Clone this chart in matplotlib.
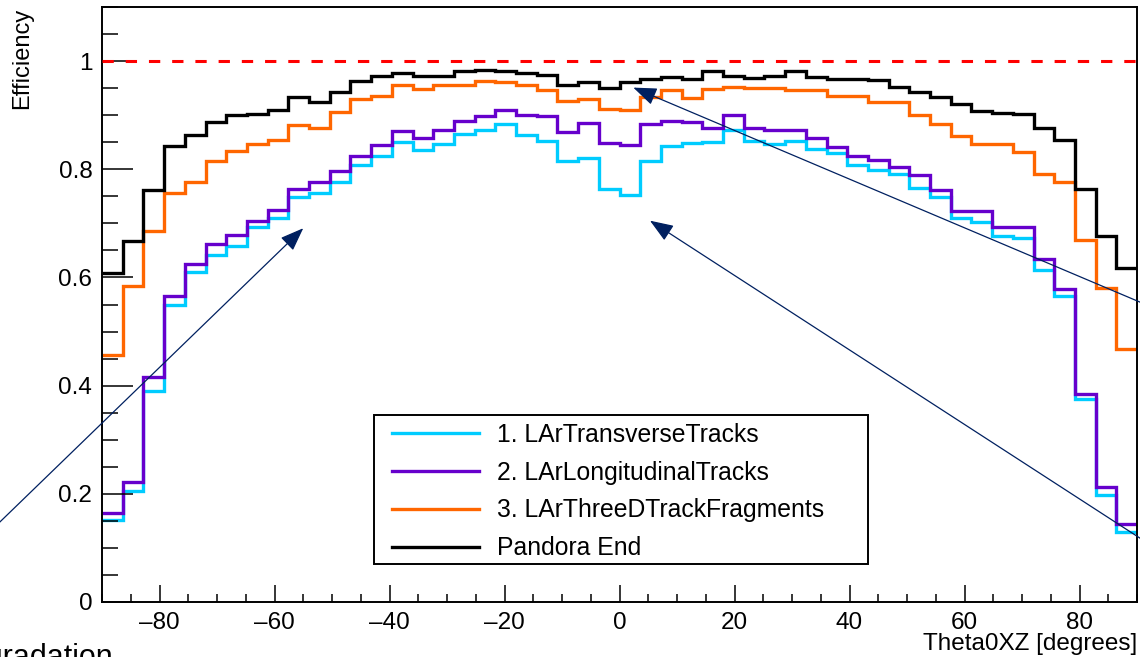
import numpy as np
import matplotlib
matplotlib.use("Agg")
import matplotlib.pyplot as plt
from matplotlib.patches import Rectangle
from matplotlib.ticker import MultipleLocator

plt.rcParams['font.family'] = ['Liberation Sans', 'DejaVu Sans']

# 50 bins of 3.6 degrees over [-90, 90]
bin_edges = np.linspace(-90, 90, 51)

transverse = [0.151, 0.205, 0.391, 0.550, 0.610, 0.641, 0.659, 0.693, 0.709, 0.749,
              0.756, 0.776, 0.807, 0.825, 0.850, 0.835, 0.846, 0.865, 0.873, 0.883,
              0.864, 0.853, 0.816, 0.821, 0.764, 0.753, 0.816, 0.843, 0.849, 0.850,
              0.873, 0.852, 0.847, 0.852, 0.837, 0.830, 0.808, 0.799, 0.791, 0.765,
              0.749, 0.710, 0.702, 0.676, 0.673, 0.614, 0.565, 0.376, 0.198, 0.129]

longitudinal = [0.165, 0.221, 0.416, 0.565, 0.625, 0.662, 0.679, 0.705, 0.725, 0.763,
                0.777, 0.797, 0.825, 0.844, 0.870, 0.858, 0.873, 0.889, 0.898, 0.909,
                0.901, 0.898, 0.869, 0.885, 0.849, 0.844, 0.883, 0.889, 0.887, 0.876,
                0.900, 0.877, 0.872, 0.873, 0.858, 0.841, 0.824, 0.818, 0.805, 0.790,
                0.762, 0.723, 0.722, 0.693, 0.693, 0.635, 0.578, 0.384, 0.213, 0.145]

fragments = [0.457, 0.584, 0.686, 0.756, 0.777, 0.815, 0.834, 0.846, 0.855, 0.882,
             0.877, 0.905, 0.930, 0.936, 0.955, 0.949, 0.956, 0.956, 0.963, 0.961,
             0.955, 0.946, 0.927, 0.929, 0.911, 0.909, 0.934, 0.947, 0.931, 0.949,
             0.953, 0.950, 0.950, 0.946, 0.947, 0.935, 0.936, 0.925, 0.924, 0.901,
             0.884, 0.862, 0.846, 0.846, 0.832, 0.792, 0.777, 0.670, 0.581, 0.467]

pandora_end = [0.608, 0.668, 0.761, 0.843, 0.864, 0.887, 0.901, 0.902, 0.910, 0.933,
               0.924, 0.943, 0.963, 0.972, 0.978, 0.973, 0.973, 0.981, 0.984, 0.981,
               0.978, 0.975, 0.956, 0.962, 0.950, 0.961, 0.967, 0.970, 0.967, 0.981,
               0.973, 0.969, 0.973, 0.981, 0.970, 0.967, 0.967, 0.965, 0.953, 0.943,
               0.933, 0.921, 0.907, 0.904, 0.903, 0.877, 0.855, 0.763, 0.677, 0.618]

series_labels = ["1. LArTransverseTracks", "2. LArLongitudinalTracks",
                 "3. LArThreeDTrackFragments", "Pandora End"]
series_colors = ["#00ccff", "#6600cc", "#ff6600", "#000000"]

x_ticks = [-80, -60, -40, -20, 0, 20, 40, 60, 80]
x_tick_labels = ["\u201380", "\u201360", "\u201340", "\u201320", "0", "20", "40", "60", "80"]
y_ticks = [0, 0.2, 0.4, 0.6, 0.8, 1.0]
y_tick_labels = ["0", "0.2", "0.4", "0.6", "0.8", "1"]

# arrows: (tail x, tail y) -> (tip x, tip y) in data units
arrows = [((-113.0, 0.094), (-55.0, 0.691)),
          ((97.5, 0.523), (2.4, 0.951)),
          ((97.5, 0.070), (5.3, 0.705))]

W, H = 1140, 657
fig = plt.figure(figsize=(W / 100, H / 100), dpi=100)
ax = fig.add_axes([102 / W, (H - 602) / H, 1035 / W, 595 / H])

for vals, lab, col in zip([transverse, longitudinal, fragments, pandora_end],
                          series_labels, series_colors):
    ax.stairs(vals, bin_edges, baseline=None, color=col, lw=2.4, label=lab)

ax.axhline(1.0, color="red", lw=2.2, ls=(0, (3.7, 3.9)), zorder=5)

ax.set_xlim(-90, 90)
ax.set_ylim(0, 1.1)
ax.set_xticks(x_ticks)
ax.set_xticklabels(x_tick_labels)
ax.set_yticks(y_ticks)
ax.set_yticklabels(y_tick_labels)
ax.xaxis.set_minor_locator(MultipleLocator(5))
ax.yaxis.set_minor_locator(MultipleLocator(0.05))
ax.tick_params(axis="x", which="major", direction="in", length=12.2, width=1.1,
               labelsize=17.5, pad=7)
ax.tick_params(axis="x", which="minor", direction="in", length=5.8, width=1.1)
ax.tick_params(axis="y", which="major", direction="in", length=22.3, width=1.1,
               labelsize=17.5, pad=7)
ax.tick_params(axis="y", which="minor", direction="in", length=11.3, width=1.1)
for s in ax.spines.values():
    s.set_linewidth(1.4)

fig.text(22 / W, (H - 8) / H, "Efficiency", rotation=90, ha="center", va="top",
         fontsize=17)
fig.text(1137 / W, (H - 650) / H, "Theta0XZ [degrees]", ha="right",
         va="baseline", fontsize=17.5)

for tail, tip in arrows:
    ax.annotate("", xy=tip, xytext=tail, xycoords="data", textcoords="data",
                annotation_clip=False,
                arrowprops=dict(arrowstyle="-|>,head_length=1.45,head_width=0.55",
                                color="#002060", lw=0.9, shrinkA=0, shrinkB=0,
                                mutation_scale=10))

# legend box, ROOT style (wider than its entries)
box = Rectangle((374 / W, (H - 564) / H), 494 / W, 149 / H,
                transform=fig.transFigure, fill=True, fc="white",
                ec="black", lw=1.4, zorder=10, clip_on=False)
ax.add_artist(box)
leg = ax.legend(loc="upper left", bbox_to_anchor=(392 / W, (H - 423) / H),
                bbox_transform=fig.transFigure, frameon=False, borderpad=0,
                borderaxespad=0, fontsize=17.8, handlelength=3.52,
                handletextpad=0.72, labelspacing=0.555)
leg.set_zorder(11)
for line in leg.get_lines():
    line.set_linewidth(2.4)

fig.text(113 / W, (H - 666) / H, "degradation", ha="right", va="baseline",
         fontsize=22)

fig.savefig("out.png", dpi=100)
